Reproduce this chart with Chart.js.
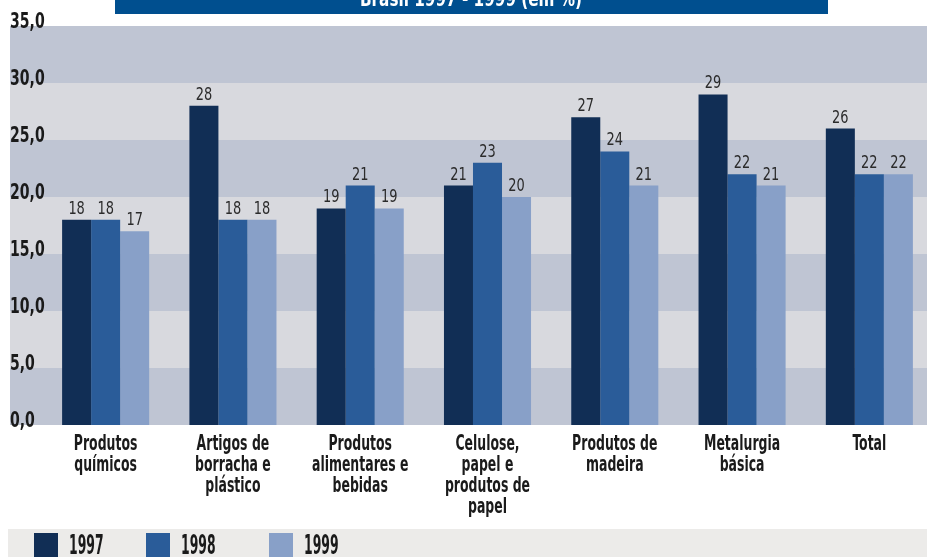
<!DOCTYPE html>
<html>
<head>
<meta charset="utf-8">
<script src="https://cdn.jsdelivr.net/npm/chart.js@4.4.0/dist/chart.umd.min.js"></script>
<style>
  body { margin: 0; width: 927px; height: 557px; overflow: hidden; background: #fff; }
  canvas { display: block; }
</style>
</head>
<body>
<canvas id="chart" width="940" height="557"></canvas>
<script>
// categories and values (%)
const chartTitle = 'Brasil 1997 - 1999 (em %)';
const categories = [
  ['Produtos', 'químicos'],
  ['Artigos de', 'borracha e', 'plástico'],
  ['Produtos', 'alimentares e', 'bebidas'],
  ['Celulose,', 'papel e', 'produtos de', 'papel'],
  ['Produtos de', 'madeira'],
  ['Metalurgia', 'básica'],
  ['Total']
];
const years = ['1997', '1998', '1999'];
const values1997 = [18, 28, 19, 21, 27, 29, 26];
const values1998 = [18, 18, 21, 23, 24, 22, 22];
const values1999 = [17, 18, 19, 20, 21, 21, 22];
const yearColors = ['#112e55', '#2a5c99', '#88a0c8'];
const yMin = 0, yMax = 35, yStep = 5;

const series = [values1997, values1998, values1999];

const FONT = '"DejaVu Sans Condensed", "DejaVu Sans", sans-serif';
const INK = '#1a1a1a';

// text squeezed horizontally, the fonts here are wider than the print face
function narrowText(ctx, text, x, y, sx, align) {
  ctx.save();
  ctx.translate(x, y);
  ctx.scale(sx, 1);
  ctx.textAlign = align;
  ctx.textBaseline = 'alphabetic';
  ctx.fillText(text, 0, 0);
  ctx.restore();
}

// alternating horizontal bands behind the bars
const bandPlugin = {
  id: 'bands',
  beforeDraw(chart) {
    const ctx = chart.ctx, y = chart.scales.y;
    ctx.save();
    for (let v = yMin; v < yMax; v += yStep) {
      const top = y.getPixelForValue(v + yStep);
      const bottom = y.getPixelForValue(v);
      ctx.fillStyle = ((v - yMin) / yStep) % 2 === 0 ? '#bfc5d3' : '#d8d9de';
      ctx.fillRect(10, top, chart.width - 10, bottom - top);
    }
    ctx.restore();
  }
};

// title bar, value labels, axis labels and legend strip
const textPlugin = {
  id: 'texts',
  afterDraw(chart) {
    const ctx = chart.ctx;
    const xs = chart.scales.x, ys = chart.scales.y;
    ctx.save();

    // title bar (runs off the top edge)
    ctx.fillStyle = '#004f8f';
    ctx.fillRect(115, 0, 713, 14);
    ctx.fillStyle = '#fff';
    ctx.font = 'bold 22px ' + FONT;
    narrowText(ctx, chartTitle, 471, 5.5, 0.77, 'center');

    // numbers above the bars
    ctx.fillStyle = '#2b2b2b';
    ctx.font = '18px ' + FONT;
    chart.data.datasets.forEach((ds, i) => {
      chart.getDatasetMeta(i).data.forEach((bar, j) => {
        narrowText(ctx, String(ds.data[j]), bar.x, bar.y - 6, 0.8, 'center');
      });
    });

    // y labels sit on top of their band edge
    ctx.fillStyle = INK;
    ctx.font = 'bold 22px ' + FONT;
    ys.ticks.forEach(t => {
      const py = ys.getPixelForValue(t.value);
      narrowText(ctx, t.value.toFixed(1).replace('.', ','), 10, py + 2, 0.71, 'left');
    });

    // category labels
    ctx.font = 'bold 22px ' + FONT;
    chart.data.labels.forEach((lines, i) => {
      const px = xs.getPixelForTick(i);
      lines.forEach((line, k) => {
        narrowText(ctx, line, px, chart.chartArea.bottom + 25 + k * 21, 0.63, 'center');
      });
    });

    // legend strip
    ctx.fillStyle = '#ecebe9';
    ctx.fillRect(8, 529, chart.width - 8, 28);
    const legendLeft = [34, 146, 269];
    ctx.font = 'bold 26px ' + FONT;
    years.forEach((yr, i) => {
      ctx.fillStyle = yearColors[i];
      ctx.fillRect(legendLeft[i], 533, 24, 24);
      ctx.fillStyle = INK;
      narrowText(ctx, yr, legendLeft[i] + 35, 554, 0.53, 'left');
    });

    ctx.restore();
  }
};

new Chart(document.getElementById('chart'), {
  type: 'bar',
  data: {
    labels: categories,
    datasets: years.map((yr, i) => ({
      label: yr,
      data: series[i],
      backgroundColor: yearColors[i],
      barPercentage: 1,
      categoryPercentage: 0.684
    }))
  },
  options: {
    responsive: false,
    animation: false,
    devicePixelRatio: 1,
    layout: { padding: { top: 26, left: 10, right: 7, bottom: 30 } },
    plugins: { legend: { display: false }, tooltip: { enabled: false } },
    scales: {
      x: {
        grid: { display: false },
        border: { display: false },
        ticks: { display: false },
        afterFit(s) { s.height = 102; }
      },
      y: {
        min: yMin, max: yMax,
        grid: { display: false },
        border: { display: false },
        ticks: { display: false, stepSize: yStep },
        afterFit(s) { s.width = 32; }
      }
    }
  },
  plugins: [bandPlugin, textPlugin]
});
</script>
</body>
</html>
